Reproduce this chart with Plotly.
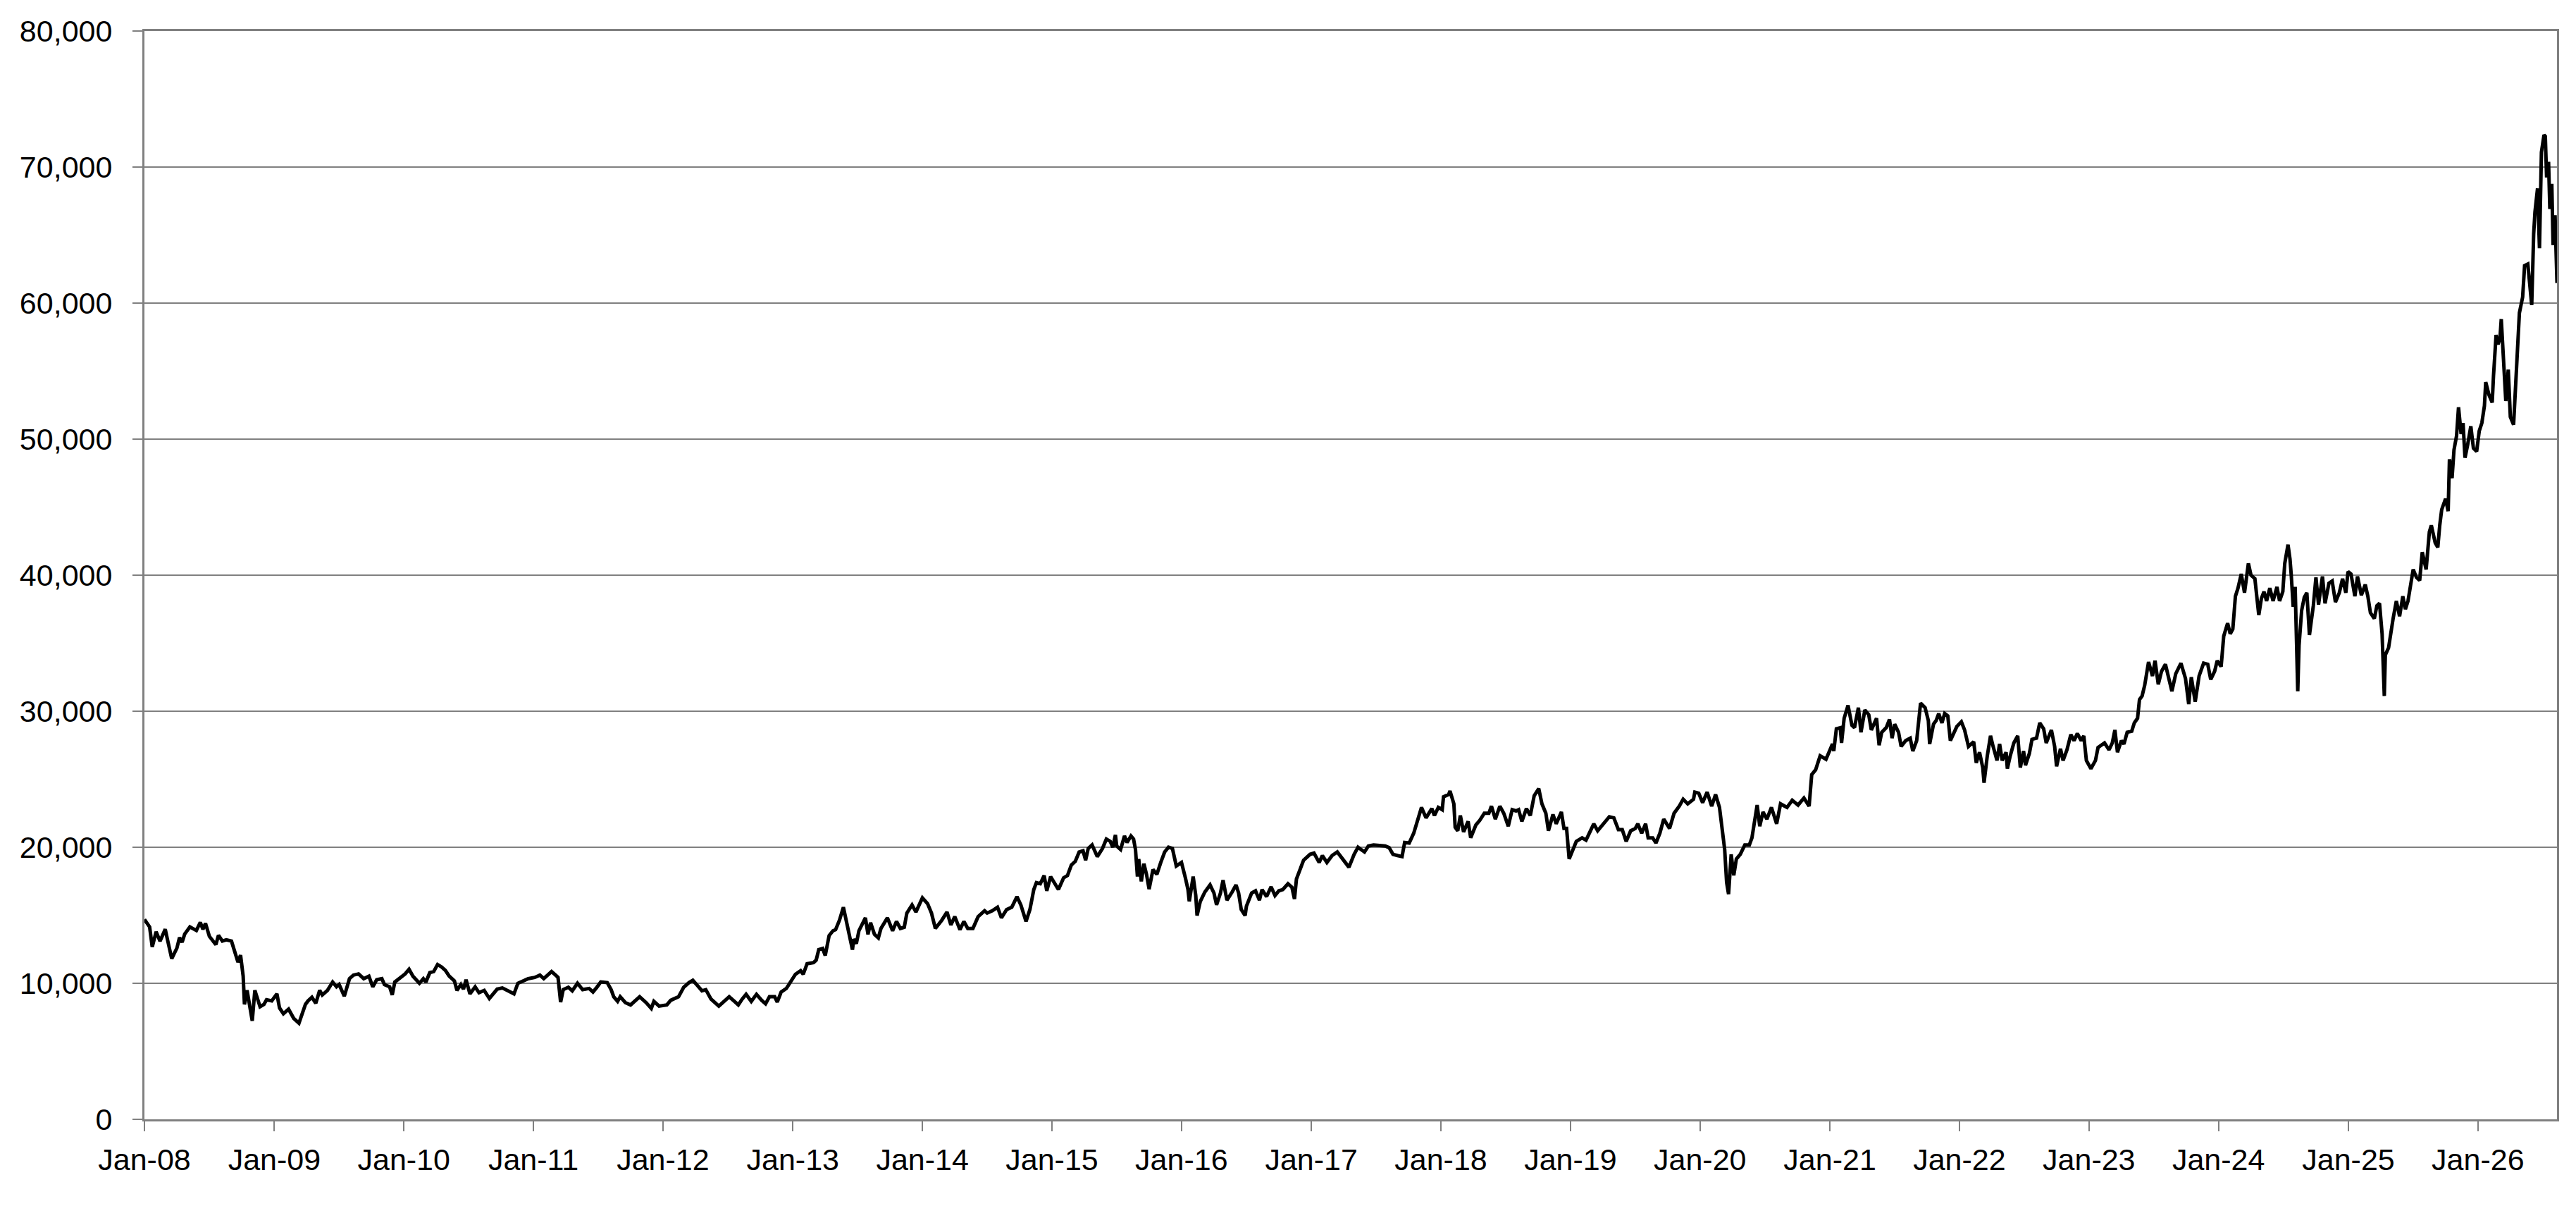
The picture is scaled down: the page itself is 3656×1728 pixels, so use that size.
import pandas as pd
import plotly.graph_objects as go

# values, as (decimal year, level) in separate lists per stretch
t_2008 = [2008.00, 2008.04, 2008.06, 2008.09, 2008.12, 2008.16, 2008.18, 2008.21, 2008.25, 2008.27,
          2008.29, 2008.31, 2008.35, 2008.40, 2008.43, 2008.45, 2008.47, 2008.50, 2008.55, 2008.57,
          2008.60, 2008.63, 2008.67, 2008.69, 2008.72, 2008.74, 2008.76, 2008.77, 2008.79, 2008.83,
          2008.85, 2008.89, 2008.92, 2008.94, 2008.98, 2009.02, 2009.04, 2009.07, 2009.11, 2009.15,
          2009.19, 2009.24, 2009.26, 2009.29, 2009.32, 2009.35, 2009.37, 2009.41, 2009.45, 2009.48,
          2009.50, 2009.54, 2009.58, 2009.61, 2009.65, 2009.69, 2009.73, 2009.76, 2009.79, 2009.83,
          2009.85, 2009.89, 2009.91, 2009.93, 2009.98, 2010.01, 2010.04, 2010.07, 2010.12, 2010.15,
          2010.17, 2010.20, 2010.23, 2010.26, 2010.29, 2010.32, 2010.35, 2010.39, 2010.41, 2010.44,
          2010.46, 2010.48, 2010.51, 2010.55, 2010.58, 2010.62, 2010.66, 2010.72, 2010.76, 2010.80,
          2010.85, 2010.88, 2010.92, 2010.96, 2011.01, 2011.05, 2011.08, 2011.14, 2011.18, 2011.19,
          2011.21]
v_2008 = [14690, 14140, 12670, 13790, 13100, 13970, 13100, 11810, 12590, 13360,
          13020, 13620, 14140, 13880, 14480, 13970, 14400, 13450, 12840, 13530,
          13100, 13190, 13100, 12410, 11550, 12070, 10520, 8450, 9480, 7240,
          9480, 8280, 8450, 8790, 8710, 9220, 8190, 7760, 8100, 7410,
          7070, 8450, 8710, 8970, 8530, 9480, 9140, 9480, 10090, 9740,
          9910, 9050, 10340, 10600, 10690, 10340, 10520, 9740, 10260, 10340,
          9910, 9740, 9140, 10090, 10430, 10690, 11030, 10520, 10000, 10340,
          10090, 10780, 10860, 11380, 11210, 10950, 10520, 10170, 9480, 9910,
          9570, 10260, 9220, 9740, 9310, 9480, 8880, 9570, 9660, 9480,
          9220, 10000, 10170, 10340, 10430, 10600, 10340, 10860, 10520, 10430,
          8620]

t_2011 = [2011.23, 2011.27, 2011.30, 2011.34, 2011.38, 2011.43, 2011.46, 2011.49, 2011.52, 2011.57,
          2011.60, 2011.62, 2011.65, 2011.67, 2011.71, 2011.75, 2011.79, 2011.82, 2011.87, 2011.91,
          2011.93, 2011.97, 2012.03, 2012.06, 2012.12, 2012.16, 2012.20, 2012.23, 2012.27, 2012.30,
          2012.33, 2012.37, 2012.43, 2012.47, 2012.51, 2012.55, 2012.58, 2012.61, 2012.64, 2012.68,
          2012.72, 2012.76, 2012.79, 2012.82, 2012.86, 2012.88, 2012.91, 2012.95, 2012.99, 2013.02,
          2013.06, 2013.08, 2013.11, 2013.16, 2013.18, 2013.20, 2013.23, 2013.25, 2013.28, 2013.31,
          2013.33, 2013.36, 2013.39, 2013.42, 2013.44, 2013.46, 2013.47, 2013.49, 2013.51, 2013.56,
          2013.58, 2013.60, 2013.63, 2013.66, 2013.68, 2013.73, 2013.77, 2013.80, 2013.83, 2013.86,
          2013.88, 2013.92, 2013.95, 2014.00, 2014.04, 2014.07, 2014.10, 2014.15, 2014.19, 2014.22,
          2014.25, 2014.29, 2014.32, 2014.35, 2014.39, 2014.43, 2014.48]
v_2011 = [9530, 9710, 9450, 10000, 9530, 9620, 9360, 9710, 10100, 10050,
          9530, 9010, 8670, 9010, 8580, 8410, 8750, 9010, 8580, 8150,
          8670, 8320, 8410, 8750, 9010, 9710, 10050, 10220, 9790, 9450,
          9530, 8840, 8320, 8670, 9010, 8670, 8410, 8840, 9190, 8670,
          9190, 8750, 8490, 9010, 9010, 8620, 9360, 9620, 10220, 10660,
          10920, 10660, 11440, 11520, 11700, 12470, 12560, 12040, 13510, 13860,
          13940, 14640, 15590, 14290, 13430, 12470, 13250, 12910, 13860, 14810,
          13600, 14460, 13600, 13340, 14030, 14810, 13860, 14550, 14030, 14120,
          15160, 15760, 15240, 16280, 15850, 15160, 14030, 14640, 15240, 14290,
          14900, 13940, 14550, 14030, 14030, 14900, 15330]

t_2014 = [2014.50, 2014.54, 2014.58, 2014.61, 2014.65, 2014.69, 2014.73, 2014.76, 2014.80, 2014.83,
          2014.86, 2014.88, 2014.91, 2014.94, 2014.96, 2014.99, 2015.02, 2015.05, 2015.09, 2015.12,
          2015.15, 2015.18, 2015.21, 2015.24, 2015.26, 2015.28, 2015.31, 2015.33, 2015.35, 2015.39,
          2015.42, 2015.45, 2015.47, 2015.49, 2015.50, 2015.53, 2015.56, 2015.58, 2015.61, 2015.63,
          2015.645, 2015.66, 2015.67, 2015.69, 2015.71, 2015.73, 2015.75, 2015.78, 2015.81, 2015.84,
          2015.87, 2015.90, 2015.93, 2015.96, 2016.00, 2016.03, 2016.05, 2016.06, 2016.09, 2016.11,
          2016.12, 2016.145, 2016.18, 2016.22, 2016.25, 2016.27, 2016.30, 2016.32, 2016.35, 2016.39,
          2016.42, 2016.44, 2016.46, 2016.49, 2016.50, 2016.54, 2016.57, 2016.60, 2016.62, 2016.655,
          2016.69, 2016.72, 2016.75, 2016.78, 2016.82, 2016.85, 2016.87, 2016.885, 2016.91, 2016.94,
          2016.99, 2017.02, 2017.06, 2017.085, 2017.12, 2017.16, 2017.20, 2017.25, 2017.29, 2017.33,
          2017.36, 2017.41, 2017.44, 2017.48, 2017.53, 2017.57, 2017.60, 2017.63, 2017.665, 2017.70,
          2017.72]
v_2014 = [15160, 15330, 15590, 14810, 15420, 15590, 16370, 15760, 14550, 15420,
          16890, 17400, 17320, 17920, 16800, 17840, 17400, 16890, 17750, 17920,
          18700, 18960, 19650, 19740, 19050, 19910, 20170, 19650, 19310, 19910,
          20600, 20430, 20000, 20900, 20090, 19830, 20830, 20350, 20830, 20600,
          19830, 17840, 19130, 17490, 18790, 18010, 16920, 18360, 18010, 18880,
          19650, 20000, 19910, 18620, 18880, 17750, 16890, 16020, 17840, 16450,
          14980, 16020, 16710, 17230, 16630, 15760, 16630, 17580, 16110, 16710,
          17230, 16630, 15420, 14980, 15670, 16630, 16800, 16110, 16890, 16370,
          17090, 16450, 16800, 16890, 17320, 17060, 16190, 17660, 18360, 19050,
          19480, 19570, 18880, 19390, 18880, 19390, 19650, 19050, 18530, 19480,
          20000, 19650, 20090, 20170, 20090, 20090, 19970, 19480, 19390, 19310,
          20350]

t_2017 = [2017.755, 2017.79, 2017.82, 2017.85, 2017.885, 2017.93, 2017.95, 2017.98, 2018.01, 2018.02,
          2018.06, 2018.07, 2018.10, 2018.11, 2018.13, 2018.15, 2018.175, 2018.21, 2018.23, 2018.27,
          2018.30, 2018.335, 2018.37, 2018.39, 2018.42, 2018.455, 2018.485, 2018.52, 2018.55, 2018.58,
          2018.60, 2018.625, 2018.66, 2018.69, 2018.72, 2018.755, 2018.78, 2018.81, 2018.83, 2018.865,
          2018.89, 2018.93, 2018.95, 2018.97, 2018.99, 2019.01, 2019.045, 2019.09, 2019.12, 2019.15,
          2019.18, 2019.21, 2019.24, 2019.27, 2019.30, 2019.335, 2019.37, 2019.40, 2019.43, 2019.465,
          2019.50, 2019.52, 2019.55, 2019.58, 2019.60, 2019.635, 2019.66, 2019.69, 2019.72, 2019.765,
          2019.80, 2019.84, 2019.87, 2019.905, 2019.95, 2019.96, 2019.99, 2020.02, 2020.055, 2020.09,
          2020.12, 2020.15, 2020.17, 2020.19, 2020.205, 2020.22, 2020.24, 2020.26, 2020.28, 2020.31,
          2020.345, 2020.38, 2020.40, 2020.42, 2020.44, 2020.46, 2020.485, 2020.515, 2020.55, 2020.59,
          2020.62, 2020.67, 2020.71, 2020.755, 2020.80, 2020.84, 2020.86, 2020.89, 2020.925, 2020.97,
          2020.99, 2021.02]
v_2017 = [20310, 21030, 21900, 22930, 22160, 22840, 22330, 22930, 22760, 23710,
          23880, 24140, 23190, 21470, 21210, 22330, 21120, 21900, 20690, 21640,
          21980, 22500, 22500, 23020, 22070, 23020, 22500, 21550, 22760, 22670,
          22760, 21900, 22840, 22330, 23790, 24310, 23190, 22500, 21210, 22410,
          21720, 22590, 21380, 21380, 19140, 19660, 20430, 20690, 20520, 21120,
          21720, 21210, 21550, 21900, 22240, 22160, 21290, 21290, 20430, 21210,
          21380, 21720, 21030, 21720, 20690, 20690, 20310, 21030, 22070, 21380,
          22500, 23020, 23530, 23190, 23530, 24050, 23970, 23280, 24050, 23020,
          23880, 22930, 21380, 19830, 17410, 16550, 19480, 17930, 19140, 19480,
          20170, 20170, 20690, 21900, 23100, 21550, 22590, 22070, 22930, 21720,
          23190, 22930, 23450, 23100, 23620, 23020, 25340, 25690, 26720, 26470,
          26900, 27590]

t_2021 = [2021.03, 2021.05, 2021.08, 2021.09, 2021.11, 2021.14, 2021.17, 2021.19, 2021.22, 2021.24,
          2021.27, 2021.30, 2021.32, 2021.34, 2021.36, 2021.38, 2021.40, 2021.435, 2021.46, 2021.48,
          2021.50, 2021.53, 2021.55, 2021.585, 2021.62, 2021.64, 2021.67, 2021.70, 2021.735, 2021.76,
          2021.77, 2021.80, 2021.82, 2021.84, 2021.865, 2021.886, 2021.91, 2021.93, 2021.96, 2021.98,
          2022.015, 2022.04, 2022.07, 2022.09, 2022.11, 2022.13, 2022.155, 2022.18, 2022.19, 2022.215,
          2022.24, 2022.26, 2022.29, 2022.31, 2022.33, 2022.36, 2022.37, 2022.39, 2022.42, 2022.45,
          2022.47, 2022.495, 2022.51, 2022.54, 2022.56, 2022.595, 2022.62, 2022.65, 2022.67, 2022.71,
          2022.735, 2022.75, 2022.78, 2022.80, 2022.83, 2022.86, 2022.885, 2022.91, 2022.94, 2022.96,
          2022.98, 2023.015, 2023.05, 2023.07, 2023.10, 2023.12, 2023.155, 2023.18, 2023.20, 2023.22,
          2023.25, 2023.27, 2023.295, 2023.33, 2023.35, 2023.375, 2023.39, 2023.41, 2023.43, 2023.46,
          2023.49, 2023.51, 2023.535, 2023.56, 2023.59, 2023.62, 2023.64, 2023.67, 2023.71, 2023.745,
          2023.77, 2023.79, 2023.82, 2023.85, 2023.885, 2023.917, 2023.94, 2023.97, 2023.99, 2024.02,
          2024.04, 2024.07, 2024.09, 2024.11, 2024.13, 2024.15, 2024.175, 2024.20, 2024.23, 2024.25]
v_2021 = [27070, 28710, 28790, 27670, 29480, 30430, 28970, 28790, 30260, 28450,
          30090, 29740, 28620, 29140, 29480, 27500, 28450, 28790, 29400, 28020,
          29050, 28450, 27410, 27840, 28020, 27070, 27840, 30600, 30260, 29310,
          27590, 29050, 29310, 29830, 29140, 29830, 29660, 27840, 28530, 28880,
          29220, 28620, 27410, 27590, 27760, 26210, 26980, 25860, 24740, 26720,
          28190, 27410, 26380, 27590, 26380, 26980, 25780, 26640, 27670, 28190,
          25860, 27070, 26030, 26900, 27930, 28020, 29140, 28710, 27670, 28620,
          27410, 25950, 27240, 26380, 27160, 28280, 27840, 28360, 27840, 28190,
          26380, 25780, 26380, 27330, 27500, 27670, 27160, 27670, 28620, 26980,
          27840, 27590, 28450, 28530, 29140, 29480, 30860, 31120, 31900, 33620,
          32590, 33710, 31980, 32930, 33450, 32240, 31470, 32760, 33530, 32410,
          30520, 32500, 30690, 32590, 33530, 33450, 32330, 32930, 33710, 33280,
          35520, 36470, 35690, 36030, 38450, 39050, 40090, 38710, 40860, 40000]

t_2024 = [2024.28, 2024.31, 2024.33, 2024.35, 2024.37, 2024.395, 2024.42, 2024.45, 2024.47, 2024.495,
          2024.51, 2024.535, 2024.55, 2024.56, 2024.575, 2024.59, 2024.61, 2024.62, 2024.64, 2024.66,
          2024.68, 2024.70, 2024.73, 2024.75, 2024.77, 2024.80, 2024.82, 2024.85, 2024.875, 2024.90,
          2024.93, 2024.955, 2024.98, 2024.997, 2025.02, 2025.05, 2025.07, 2025.10, 2025.13, 2025.15,
          2025.17, 2025.20, 2025.22, 2025.24, 2025.26, 2025.277, 2025.285, 2025.31, 2025.325, 2025.345,
          2025.37, 2025.395, 2025.42, 2025.44, 2025.46]
v_2024 = [39740, 37070, 38280, 38790, 38100, 39050, 38100, 39140, 38100, 38790,
          40860, 42240, 41210, 40000, 37670, 39140, 31470, 34830, 37410, 38360,
          38710, 35600, 37760, 39830, 37840, 39910, 37930, 39400, 39570, 38020,
          38710, 39740, 38710, 40260, 40090, 38450, 39910, 38530, 39310, 38450,
          37240, 36810, 37760, 37930, 35690, 31120, 34140, 34660, 35690, 36810,
          38100, 36980, 38450, 37500, 38100]

t_2025 = [2025.48, 2025.50, 2025.525, 2025.55, 2025.57, 2025.60, 2025.625, 2025.64, 2025.67, 2025.69,
          2025.705, 2025.72, 2025.75, 2025.77, 2025.78, 2025.80, 2025.815, 2025.835, 2025.85, 2025.87,
          2025.885, 2025.90, 2025.92, 2025.945, 2025.965, 2025.99, 2026.01, 2026.03, 2026.05, 2026.06,
          2026.085, 2026.11, 2026.12, 2026.14, 2026.155, 2026.17, 2026.18, 2026.20, 2026.215, 2026.234,
          2026.25, 2026.275, 2026.29, 2026.305, 2026.32, 2026.345, 2026.36, 2026.385, 2026.415, 2026.43,
          2026.44, 2026.46, 2026.475, 2026.49, 2026.51, 2026.52, 2026.53, 2026.545, 2026.555, 2026.57,
          2026.58, 2026.595, 2026.61]
v_2025 = [39140, 40420, 39840, 39610, 41690, 40420, 43190, 43660, 42380, 42040,
          43660, 44810, 45620, 44700, 48520, 47130, 49210, 50250, 52340, 50370,
          51180, 48630, 49560, 50950, 49330, 49100, 50600, 51180, 52450, 54190,
          53260, 52690, 54650, 57660, 56970, 57430, 58820, 55460, 52800, 55110,
          51640, 51060, 53730, 56740, 59280, 60440, 62750, 62870, 59860, 65070,
          66690, 68430, 64030, 71090, 72360, 72250, 69240, 70390, 66920, 68770,
          64260, 66460, 61480]

y_ticks = [0, 10000, 20000, 30000, 40000, 50000, 60000, 70000, 80000]


def to_date(y):
    # decimal year -> timestamp
    yr = int(y)
    start = pd.Timestamp(year=yr, month=1, day=1)
    n = (pd.Timestamp(year=yr + 1, month=1, day=1) - start).days
    return start + pd.Timedelta(days=(y - yr) * n)


years = t_2008 + t_2011 + t_2014 + t_2017 + t_2021 + t_2024 + t_2025
values = v_2008 + v_2011 + v_2014 + v_2017 + v_2021 + v_2024 + v_2025
dates = [to_date(y) for y in years]

fig = go.Figure()
fig.add_trace(go.Scatter(x=dates, y=values, mode="lines",
                         line=dict(color="black", width=5), showlegend=False))

axis_font = dict(family="Liberation Sans, Arial, sans-serif", size=43, color="black")

# page body keeps an 8px margin, so the figure is 16px smaller than the window
fig.update_layout(
    width=3640, height=1712,
    margin=dict(l=197, r=19, t=36, b=132),
    paper_bgcolor="white", plot_bgcolor="white",
    font=axis_font,
)
fig.update_xaxes(
    type="date",
    range=[pd.Timestamp("2008-01-01"), dates[-1]],
    tick0="2008-01-01", dtick="M12", tickformat="%b-%y",
    ticks="outside", ticklen=14, tickwidth=2, tickcolor="#808080",
    ticklabelstandoff=3,
    showline=True, linecolor="#808080", linewidth=3, mirror=True,
    showgrid=False, zeroline=False, tickfont=axis_font,
)
fig.update_yaxes(
    range=[0, 80000], tickvals=y_ticks, tickformat=",",
    ticks="outside", ticklen=14, tickwidth=2, tickcolor="#808080",
    ticklabelstandoff=20,
    showline=True, linecolor="#808080", linewidth=3, mirror=True,
    showgrid=True, gridcolor="#808080", gridwidth=2, zeroline=False,
    tickfont=axis_font,
)

fig.write_html("out.html")
